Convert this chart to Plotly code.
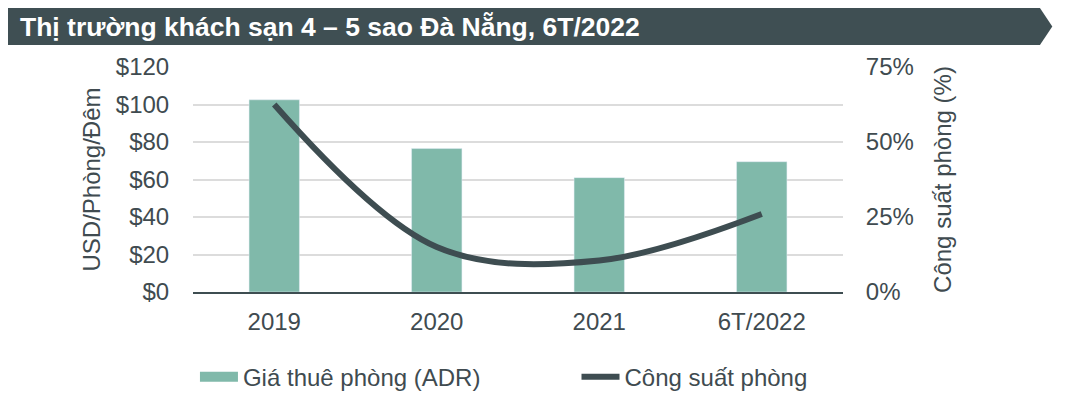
import plotly.graph_objects as go

# Data
periods = ["2019", "2020", "2021", "6T/2022"]
adr_usd = [102.5, 76.5, 61.0, 69.5]          # Giá thuê phòng (ADR), USD/phòng/đêm
occupancy_pct = [62.5, 15.0, 10.5, 26.0]     # Công suất phòng, %

left_ticks = [0, 20, 40, 60, 80, 100, 120]
left_labels = ["$" + str(v) for v in left_ticks]
right_ticks = [0, 25, 50, 75]
right_labels = [str(v) + "%" for v in right_ticks]

BAR = "#80b9aa"
DARK = "#3e4d51"
TEXT = "#404b50"
FONT = "Liberation Sans, Arial, sans-serif"

fig = go.Figure()

fig.add_trace(go.Bar(
    x=periods, y=adr_usd, name="Giá thuê phòng (ADR)",
    marker_color=BAR, width=0.31, yaxis="y", showlegend=False,
))
# legend stand-in so the swatch is a wide block like the original
fig.add_trace(go.Scatter(
    x=[None], y=[None], name="Giá thuê phòng (ADR)", mode="lines",
    line=dict(color=BAR, width=16), yaxis="y", legend="legend",
))

fig.add_trace(go.Scatter(
    x=periods, y=occupancy_pct, name="Công suất phòng",
    mode="lines", line=dict(color=DARK, width=6, shape="spline", smoothing=1.0),
    yaxis="y2", legend="legend2",
))

# title banner (arrow-shaped band)
fig.add_shape(
    type="path", xref="paper", yref="paper",
    path="M -0.29 1.262 L 1.303 1.262 L 1.322 1.18 L 1.303 1.098 L -0.29 1.098 Z",
    fillcolor="#3f4f53", line_width=0, layer="above",
)
fig.add_annotation(
    text="<b>Thị trường khách sạn 4 – 5 sao Đà Nẵng, 6T/2022</b>",
    xref="paper", yref="paper", x=-0.27, y=1.18,
    xanchor="left", yanchor="middle", showarrow=False,
    font=dict(family=FONT, size=26.5, color="white"),
)

legend_style = dict(
    orientation="h", yanchor="middle", xanchor="left", y=-0.378,
    font=dict(size=24, color=TEXT), itemwidth=38, bgcolor="rgba(0,0,0,0)",
)

fig.update_layout(
    width=1067, height=401,
    margin=dict(l=185, r=232, t=59, b=117, autoexpand=False),
    paper_bgcolor="white", plot_bgcolor="white",
    font=dict(family=FONT, size=24, color=TEXT),
    showlegend=True,
    legend=dict(legend_style, x=0.003),
    legend2=dict(legend_style, x=0.59),
    xaxis=dict(
        showgrid=False, showline=True, linecolor=DARK, linewidth=2,
        ticks="outside", ticklen=7, tickcolor="rgba(0,0,0,0)",
        tickfont=dict(size=24, color=TEXT), automargin=False,
    ),
    yaxis=dict(
        range=[0, 120], tickvals=left_ticks, ticktext=left_labels,
        showgrid=True, gridcolor="#dcdcdc", gridwidth=1.5,
        zeroline=False, showline=False,
        ticks="outside", ticklen=18, tickcolor="rgba(0,0,0,0)",
        tickfont=dict(size=24, color=TEXT), automargin=False,
        title=dict(text="USD/Phòng/Đêm", font=dict(size=24, color=TEXT), standoff=8),
    ),
    yaxis2=dict(
        range=[0, 75], tickvals=right_ticks, ticktext=right_labels,
        overlaying="y", side="right", showgrid=False, zeroline=False,
        ticks="outside", ticklen=17, tickcolor="rgba(0,0,0,0)",
        tickfont=dict(size=24, color=TEXT), automargin=False,
        title=dict(text="Công suất phòng (%)", font=dict(size=24, color=TEXT), standoff=21),
    ),
    bargap=0.5,
)

fig.write_html("out.html")
